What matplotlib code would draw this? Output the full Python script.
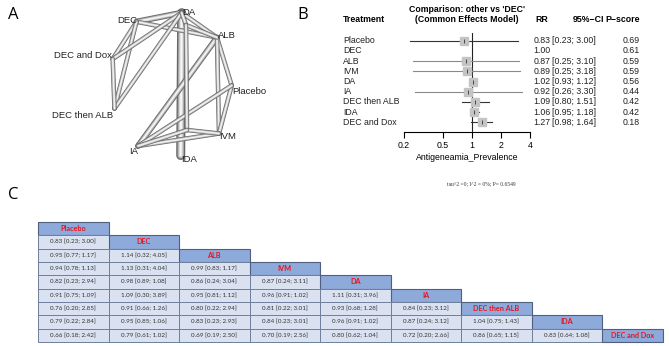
import matplotlib
matplotlib.use('Agg')
import matplotlib.pyplot as plt
import matplotlib.transforms as mtransforms
from matplotlib.patches import Rectangle

plt.rcParams['font.family'] = ['Liberation Sans', 'DejaVu Sans']

# --- data ---
treatments = ['Placebo', 'DEC', 'ALB', 'IVM', 'DA', 'IA', 'DEC then ALB', 'IDA', 'DEC and Dox']
rr = [0.83, 1.00, 0.87, 0.89, 1.02, 0.92, 1.09, 1.06, 1.27]
rr_lo = [0.23, None, 0.25, 0.25, 0.93, 0.26, 0.80, 0.95, 0.98]
rr_hi = [3.00, None, 3.10, 3.18, 1.12, 3.30, 1.51, 1.18, 1.64]
pscore = [0.69, 0.61, 0.59, 0.59, 0.56, 0.44, 0.42, 0.42, 0.18]
ci_colors = ['#333333', '#333333', '#8a8a8a', '#8a8a8a', '#333333', '#8a8a8a', '#333333', '#333333', '#333333']
xticks = [0.2, 0.5, 1, 2, 4]

league = [
    [],
    ['0.83 [0.23; 3.00]'],
    ['0.95 [0.77; 1.17]', '1.14 [0.32; 4.05]'],
    ['0.94 [0.78; 1.13]', '1.13 [0.31; 4.04]', '0.99 [0.83; 1.17]'],
    ['0.82 [0.23; 2.94]', '0.98 [0.89; 1.08]', '0.86 [0.24; 3.04]', '0.87 [0.24; 3.11]'],
    ['0.91 [0.75; 1.09]', '1.09 [0.30; 3.89]', '0.95 [0.81; 1.12]', '0.96 [0.91; 1.02]', '1.11 [0.31; 3.96]'],
    ['0.76 [0.20; 2.85]', '0.91 [0.66; 1.26]', '0.80 [0.22; 2.94]', '0.81 [0.22; 3.01]', '0.93 [0.68; 1.28]',
     '0.84 [0.23; 3.12]'],
    ['0.79 [0.22; 2.84]', '0.95 [0.85; 1.06]', '0.83 [0.23; 2.93]', '0.84 [0.23; 3.01]', '0.96 [0.91; 1.02]',
     '0.87 [0.24; 3.12]', '1.04 [0.75; 1.43]'],
    ['0.66 [0.18; 2.42]', '0.79 [0.61; 1.02]', '0.69 [0.19; 2.50]', '0.70 [0.19; 2.56]', '0.80 [0.62; 1.04]',
     '0.72 [0.20; 2.66]', '0.86 [0.65; 1.15]', '0.83 [0.64; 1.08]'],
]

# network layout (pixel positions) and edges with width in px
layout = {
    'DA': (181.7, 12.7), 'DEC': (136.5, 21.7), 'ALB': (217, 37.5), 'DEC and Dox': (112.7, 59),
    'Placebo': (231.7, 85.5), 'DEC then ALB': (114.5, 108.5), 'IVM': (219, 133.5), 'IA': (138, 146),
    'IDA': (180.7, 155.5), '_j1': (186, 25), '_j2': (187, 130),
}
edges = [
    ('DA', 'IDA', 9), ('DEC', 'DA', 6), ('ALB', 'IA', 6),
    ('DEC', 'ALB', 4.5), ('DEC', 'DEC and Dox', 4.5), ('DEC', 'DEC then ALB', 4.5),
    ('DA', 'DEC and Dox', 4.5), ('DA', 'DEC then ALB', 4.5), ('DEC and Dox', 'DEC then ALB', 4.5),
    ('DA', 'ALB', 4.5), ('ALB', 'Placebo', 4.5), ('ALB', 'IVM', 4.5), ('Placebo', 'IVM', 4.5),
    ('Placebo', 'IA', 4.5), ('IVM', 'IA', 4.5),
    ('DA', '_j1', 4.5), ('_j1', 'ALB', 4.5), ('_j1', '_j2', 4.5), ('_j2', 'IVM', 4.5), ('IA', '_j2', 4.5),
]
node_labels = {
    'DA': ('left', 0.5, 0), 'DEC': ('right', 0.5, -1.5), 'ALB': ('left', 0.5, -2.5),
    'DEC and Dox': ('right', -0.5, -4), 'Placebo': ('left', 0.5, 5.5), 'DEC then ALB': ('right', -1.5, 7.5),
    'IVM': ('left', 0, 3), 'IA': ('right', 0, 5.5), 'IDA': ('left', 0, 4.5),
}

fig = plt.figure(figsize=(6.69, 3.46), dpi=100)
ov = fig.add_axes([0, 0, 1, 1])
ov.set_xlim(0, 669)
ov.set_ylim(346, 0)
ov.axis('off')

# panel letters
for letter, (lx, ly) in {'A': (13, 15), 'B': (303, 15), 'C': (13, 195)}.items():
    ov.text(lx, ly, letter, fontsize=12, ha='center', va='center', family=['Open Sans', 'DejaVu Sans'])

# ---- A: network ----
for a, b, w in sorted(edges, key=lambda e: -e[2]):
    xs = [layout[a][0], layout[b][0]]
    ys = [layout[a][1], layout[b][1]]
    lw = w * 0.72
    ov.plot(xs, ys, color='#666666', lw=lw, solid_capstyle='round', zorder=2)
    ov.plot(xs, ys, color='#a8a8a8', lw=lw * 0.72, solid_capstyle='round', zorder=2)
    ov.plot(xs, ys, color='#d8d8d8', lw=lw * 0.45, solid_capstyle='round', zorder=2)
    ov.plot(xs, ys, color='#f7f7f7', lw=lw * 0.2, solid_capstyle='round', zorder=2)

for name, (ha, dx, dy) in node_labels.items():
    x, y = layout[name]
    ov.text(x + dx, y + dy, name, ha=ha, va='center', fontsize=6.8, color='#222222', zorder=3)

# ---- B: forest plot ----
fa = fig.add_axes([404 / 669, 1 - 131.7 / 346, 126 / 669, (131.7 - 33) / 346])
fa.set_xscale('log')
fa.set_xlim(0.2, 4)
fa.set_ylim(8.92, -0.755)
for s in ['top', 'left', 'right']:
    fa.spines[s].set_visible(False)
fa.spines['bottom'].set_linewidth(0.8)
fa.set_xticks(xticks)
fa.set_xticklabels([str(t) for t in xticks])
fa.xaxis.set_minor_locator(matplotlib.ticker.NullLocator())
fa.tick_params(axis='x', length=4, width=0.8, labelsize=6.3, pad=3)
fa.set_yticks([])
fa.set_xlabel('Antigeneamia_Prevalence', fontsize=6.3, labelpad=1.5)
fa.patch.set_alpha(0)
fa.axvline(1, color='#222222', lw=0.8, zorder=1)

for i, t in enumerate(treatments):
    if rr_lo[i] is None:
        continue
    fa.plot([rr_lo[i], rr_hi[i]], [i, i], color=ci_colors[i], lw=0.8, zorder=2)
    fa.plot(rr[i], i, marker='s', ms=5.6, color='#c4c4c4', mec='#c4c4c4', zorder=3)
    fa.plot(rr[i], i, marker='|', ms=2.5, color='#333333', mew=0.6, zorder=4)

tr = mtransforms.blended_transform_factory(ov.transData, fa.transData)
fs = 6.3
ov.text(343, 20, 'Treatment', fontsize=fs, fontweight='bold', va='center')
ov.text(466.7, 10, "Comparison: other vs 'DEC'", fontsize=fs, fontweight='bold', va='center', ha='center')
ov.text(466.7, 20, '(Common Effects Model)', fontsize=fs, fontweight='bold', va='center', ha='center')
ov.text(542, 20, 'RR', fontsize=fs, fontweight='bold', va='center', ha='center')
ov.text(604, 20, '95%\u2212CI', fontsize=fs, fontweight='bold', va='center', ha='right')
ov.text(640, 20, 'P\u2212score', fontsize=fs, fontweight='bold', va='center', ha='right')
for i, t in enumerate(treatments):
    ov.text(343, i, t, fontsize=fs, va='center', transform=tr, color='#222222')
    ov.text(550.5, i, f'{rr[i]:.2f}', fontsize=fs, va='center', ha='right', transform=tr, color='#222222')
    if rr_lo[i] is not None:
        ov.text(552, i, f'[{rr_lo[i]:.2f}; {rr_hi[i]:.2f}]', fontsize=fs, va='center', transform=tr,
                color='#222222')
    ov.text(640, i, f'{pscore[i]:.2f}', fontsize=fs, va='center', ha='right', transform=tr, color='#222222')

ov.text(481.7, 184, 'tau^2 =0; I^2 = 0%; P= 0.6549', fontsize=4, ha='center', va='center',
        family=['Liberation Serif', 'DejaVu Serif'], color='#333333')

# ---- C: league table ----
x0, y0, cw, rh, x_end = 38, 222, 70.5, 13.33, 663
for i, t in enumerate(treatments):
    for j in range(i + 1):
        cx = x0 + j * cw
        w = min(cw, x_end - cx)
        cy = y0 + i * rh
        if j == i:
            ov.add_patch(Rectangle((cx, cy), w, rh, facecolor='#8eaadb', edgecolor='#4f5f7f', lw=0.8, zorder=2))
            ov.text(cx + w / 2, cy + rh / 2, t, ha='center', va='center', fontsize=5.2, fontweight='bold',
                    color='#e8141b', family=['Lato', 'DejaVu Sans'], zorder=3)
        else:
            ov.add_patch(Rectangle((cx, cy), w, rh, facecolor='#dae2f1', edgecolor='#6f7f9c', lw=0.7, zorder=2))
            ov.text(cx + w / 2, cy + rh / 2, league[i][j], ha='center', va='center', fontsize=4.5,
                    color='#333333', family=['Lato', 'DejaVu Sans'], zorder=3)

plt.savefig('out.png', dpi=100)
